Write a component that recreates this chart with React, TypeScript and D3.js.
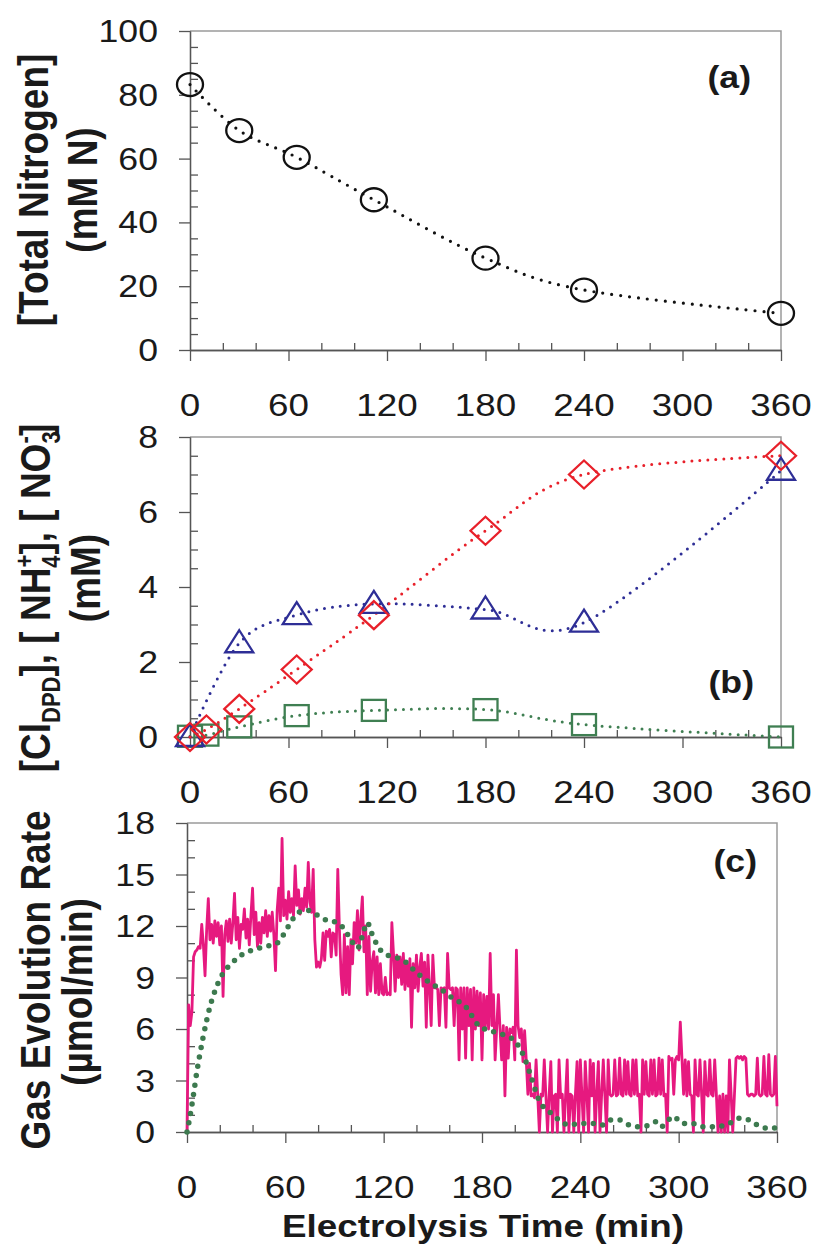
import React, { useEffect, useRef } from "react";
import * as d3 from "d3";

// shared x ticks (minutes)
const timeTicks = [0, 60, 120, 180, 240, 300, 360];

// (a) total nitrogen, mM N
const tnTime = [0, 30, 65, 112, 180, 240, 360];
const tnValue = [83.2, 68.8, 60.4, 47.1, 28.8, 18.8, 11.5];

// (b) species, mM
const triTime = [0, 30, 65, 112, 180, 240, 360];
const triValue = [0, 2.5, 3.25, 3.55, 3.4, 3.05, 7.1];
const diaTime = [0, 10, 30, 65, 112, 180, 240, 360];
const diaValue = [0, 0.2, 0.75, 1.8, 3.25, 5.5, 7.0, 7.5];
const sqTime = [0, 10, 30, 65, 112, 180, 240, 360];
const sqValue = [0.02, 0.05, 0.27, 0.57, 0.71, 0.73, 0.33, 0.0];

// (c) measured gas evolution rate, one reading per minute (0..360)
const rateValue = [
  0, 7.4, 6.2, 7.0, 10.2, 10.5, 10.6, 10.8, 10.7, 12.1,
  10.9, 9.1, 11.8, 13.6, 11.2, 12.1, 11.0, 12.3, 11.4, 12.2,
  10.9, 12.0, 7.9, 11.5, 12.3, 11.1, 12.4, 11.0, 12.2, 13.9,
  11.2, 12.5, 10.7, 12.1, 11.8, 13.0, 11.3, 12.4, 10.9, 12.6,
  14.2, 11.5, 12.8, 10.8, 12.2, 11.0, 12.5, 11.6, 12.9, 11.4,
  12.6, 11.7, 12.8, 11.5, 9.4, 12.9, 14.2, 12.3, 17.1, 12.6,
  13.5, 12.4, 14.0, 12.8, 13.6, 12.6, 15.5, 13.2, 14.1, 12.7,
  13.6, 12.9, 14.2, 13.1, 15.7, 13.4, 12.8, 15.3, 11.2, 9.6,
  9.9, 9.6, 10.1, 11.6, 10.0, 11.7, 11.4, 11.8, 10.2, 11.6,
  11.5, 10.3, 15.3, 11.8, 9.2, 8.0, 11.5, 8.1, 10.8, 8.0,
  11.2, 9.8, 12.2, 11.0, 12.9, 10.6, 12.3, 13.7, 10.5, 12.0,
  8.0, 11.4, 8.2, 9.9, 10.5, 8.1, 10.2, 8.0, 9.8, 8.1,
  8.0, 9.0, 8.0, 8.1, 8.0, 12.2, 10.4, 8.2, 10.3, 9.0,
  10.2, 8.6, 10.4, 8.3, 9.9, 8.5, 10.1, 6.1, 9.8, 8.4,
  10.3, 8.2, 9.6, 10.4, 8.5, 9.9, 6.1, 10.3, 8.4, 6.2,
  10.3, 8.4, 8.4, 8.3, 6.2, 8.4, 8.3, 8.4, 6.1, 10.4,
  8.4, 8.3, 8.4, 6.2, 8.4, 8.3, 4.2, 8.4, 6.0, 8.4,
  4.3, 8.4, 6.2, 8.3, 4.2, 8.4, 6.0, 8.2, 6.2, 8.1,
  4.2, 8.0, 6.1, 7.9, 6.0, 10.4, 6.2, 8.0, 4.2, 6.1,
  8.0, 6.0, 4.2, 6.2, 2.1, 6.1, 4.3, 6.0, 5.8, 6.1,
  4.2, 10.6, 6.2, 5.5, 6.0, 4.1, 5.9, 4.2, 2.2, 4.0,
  2.1, 2.2, 2.0, 4.2, 2.1, 0.0, 2.2, 2.1, 4.2, 2.1,
  0.0, 2.2, 4.1, 0.0, 2.1, 2.2, 0.0, 4.2, 2.0, 2.2,
  0.0, 2.1, 4.2, 0.0, 2.2, 2.1, 0.0, 2.2, 4.1, 0.0,
  4.2, 2.1, 0.0, 4.1, 2.2, 0.0, 4.2, 2.1, 4.0, 0.0,
  2.2, 4.1, 0.0, 2.2, 4.2, 2.1, 0.0, 4.2, 2.2, 2.1,
  2.2, 4.2, 2.1, 2.2, 4.3, 2.2, 2.1, 4.2, 2.2, 4.1,
  2.2, 2.1, 4.2, 2.2, 4.2, 2.1, 2.2, 0.0, 4.2, 2.2,
  4.1, 2.2, 2.1, 4.2, 2.2, 4.2, 2.1, 2.2, 4.3, 2.2,
  4.2, 2.1, 2.2, 0.0, 4.4, 4.2, 4.3, 2.2, 4.2, 4.4,
  4.2, 6.4, 4.3, 2.2, 4.2, 2.1, 4.1, 2.2, 2.1, 0.0,
  4.2, 2.2, 2.1, 4.2, 2.2, 0.0, 4.1, 2.2, 2.1, 4.2,
  2.2, 2.1, 4.2, 2.2, 0.0, 2.1, 0.0, 2.2, 0.0, 2.1,
  0.0, 4.2, 2.2, 0.0, 2.1, 4.3, 4.4, 4.3, 4.4, 4.2,
  4.4, 4.3, 2.2, 2.1, 2.2, 2.2, 2.1, 2.2, 4.3, 2.2,
  2.1, 2.2, 4.4, 2.2, 2.1, 4.5, 2.2, 2.1, 2.2, 4.4, 1.5,
];

// (c) predicted / smoothed rate (green dotted)
const fitTime = [
  0, 2, 4, 6, 8, 10, 12, 14, 17, 20, 24, 28, 33, 40, 48, 55, 62, 68, 74, 80,
  86, 92, 96, 100, 104, 107, 110, 113, 116, 120, 126, 132, 140, 148, 155, 162,
  170, 178, 185, 192, 200, 206, 210, 215, 221, 227, 233, 240, 247, 253, 258,
  264, 270, 276, 282, 286, 289, 297, 302, 308, 314, 321, 329, 337, 343, 350, 357, 360,
];
const fitValue = [
  0, 1.0, 2.2, 3.5, 4.6, 5.6, 6.5, 7.3, 8.2, 8.9, 9.5, 9.9, 10.3, 10.6, 10.8, 11.0, 12.0, 12.8, 12.9, 12.6,
  12.3, 12.2, 11.8, 11.2, 10.7, 11.4, 12.2, 11.5, 10.9, 10.4, 10.2, 10.0, 9.3, 8.7, 8.3, 7.8,
  7.3, 6.2, 5.9, 5.7, 5.3, 4.3, 3.2, 1.8, 1.2, 0.7, 0.4, 0.5, 0.5, 0.4, 0.7,
  0.7, 0.4, 0.3, 0.4, 0.6, 0.3, 0.9, 0.5, 0.5, 0.3, 0.3, 0.4, 0.8, 0.7, 0.3, 0.2, 0.3,
];

const FONT = "'Liberation Sans', Arial, Helvetica, sans-serif";
const SX = 1.15; // the figure is slightly wider than tall

type Sel = d3.Selection<any, unknown, null, undefined>;

function label(g: Sel, x: number, y: number, s: string, size: number, anchor: string, bold = false) {
  return g
    .append("text")
    .attr("transform", `translate(${x},${y}) scale(${SX},1)`)
    .attr("text-anchor", anchor)
    .attr("font-family", FONT)
    .attr("font-size", size)
    .attr("font-weight", bold ? "bold" : "normal")
    .attr("fill", "#1a1a1a")
    .text(s);
}

function vlabel(g: Sel, x: number, y: number, size: number) {
  return g
    .append("text")
    .attr("transform", `translate(${x},${y}) scale(${SX},1) rotate(-90)`)
    .attr("text-anchor", "middle")
    .attr("font-family", FONT)
    .attr("font-size", size)
    .attr("font-weight", "bold")
    .attr("fill", "#1a1a1a");
}

function frame(svg: Sel, left: number, right: number, top: number, bottom: number,
  yTicks: number[], yMinor: number[]) {
  const g = svg.append("g");
  const x = d3.scaleLinear().domain([0, 360]).range([left, right]);
  const y = d3.scaleLinear().domain([0, yTicks[yTicks.length - 1]]).range([bottom, top]);

  // box (top and right)
  g.append("path")
    .attr("d", `M${left},${top}H${right}V${bottom}`)
    .attr("fill", "none").attr("stroke", "#9a9a9a").attr("stroke-width", 1.5);

  const xMinor = d3.range(0, 361, 20).filter(v => v % 60 !== 0);
  g.append("g").attr("transform", `translate(0,${bottom})`)
    .call(d3.axisBottom(x).tickValues(xMinor).tickSize(-7).tickSizeOuter(0).tickFormat(() => ""));
  g.append("g").attr("transform", `translate(0,${bottom})`)
    .call(d3.axisBottom(x).tickValues(timeTicks).tickSize(11).tickSizeOuter(0).tickFormat(() => ""));
  g.append("g").attr("transform", `translate(${left},0)`)
    .call(d3.axisLeft(y).tickValues(yMinor).tickSize(-8).tickSizeOuter(0).tickFormat(() => ""));
  g.append("g").attr("transform", `translate(${left},0)`)
    .call(d3.axisLeft(y).tickValues(yTicks).tickSize(11).tickSizeOuter(0).tickFormat(() => ""));
  g.selectAll(".domain, .tick line").attr("stroke", "#555").attr("stroke-width", 1.3);

  timeTicks.forEach(t => label(g, x(t), bottom + 66, String(t), 32, "middle"));
  yTicks.forEach(v => label(g, left - 32, y(v) + 11, String(v), 31, "end"));
  return { g, x, y };
}

const smooth = d3.curveCardinal.tension(0);

function dotted(g: Sel, xs: number[], ys: number[], x: any, y: any, color: string,
  width: number, gap: number, curve: any = smooth) {
  const line = d3.line<number>().x((_, i) => x(xs[i])).y(d => y(d)).curve(curve);
  g.append("path").attr("d", line(ys) as string)
    .attr("fill", "none").attr("stroke", color).attr("stroke-width", width)
    .attr("stroke-linecap", "round").attr("stroke-dasharray", `0 ${gap}`);
}

export default function App() {
  const ref = useRef<SVGSVGElement>(null);

  useEffect(() => {
    const svg = d3.select(ref.current) as Sel;
    svg.selectAll("*").remove();

    // ---------- (a)
    const a = frame(svg, 190, 781, 31, 350, [0, 20, 40, 60, 80, 100], d3.range(5, 100, 5).filter(v => v % 20 !== 0));
    dotted(a.g, tnTime, tnValue, a.x, a.y, "#111", 3.2, 9);
    a.g.selectAll(".circ").data(tnValue).join("ellipse")
      .attr("cx", (_, i) => a.x(tnTime[i])).attr("cy", d => a.y(d))
      .attr("rx", 13).attr("ry", 11.5)
      .attr("fill", "none").attr("stroke", "#111").attr("stroke-width", 2.3);
    label(a.g, 751, 88, "(a)", 31, "end", true);
    const ta1 = vlabel(a.g, 48, 190, 37);
    ta1.text("[Total Nitrogen]");
    const ta2 = vlabel(a.g, 97, 190, 37);
    ta2.text("(mM N)");

    // ---------- (b)
    const b = frame(svg, 190, 781, 437, 737, [0, 2, 4, 6, 8], d3.range(0.5, 8, 0.5).filter(v => v % 2 !== 0));
    dotted(b.g, sqTime, sqValue, b.x, b.y, "#3f7f52", 3, 8);
    dotted(b.g, triTime, triValue, b.x, b.y, "#2e2e96", 3, 8);
    dotted(b.g, diaTime, diaValue, b.x, b.y, "#e8202a", 3, 8);
    b.g.selectAll(".sq").data(sqValue).join("rect").attr("class", "sq")
      .attr("x", (_, i) => b.x(sqTime[i]) - 12).attr("y", d => b.y(d) - 10.5)
      .attr("width", 24).attr("height", 21)
      .attr("fill", "none").attr("stroke", "#3f7f52").attr("stroke-width", 2.3);
    b.g.selectAll(".tri").data(triValue).join("path").attr("class", "tri")
      .attr("transform", (d, i) => `translate(${b.x(triTime[i])},${b.y(d)})`)
      .attr("d", "M0,-13L14,9L-14,9Z")
      .attr("fill", "none").attr("stroke", "#2e2e96").attr("stroke-width", 2.3);
    b.g.selectAll(".dia").data(diaValue).join("path").attr("class", "dia")
      .attr("transform", (d, i) => `translate(${b.x(diaTime[i])},${b.y(d)})`)
      .attr("d", "M0,-14L15,0L0,14L-15,0Z")
      .attr("fill", "none").attr("stroke", "#e8202a").attr("stroke-width", 2.3);
    label(b.g, 754, 693, "(b)", 31, "end", true);
    const tb1 = vlabel(b.g, 50, 598, 37);
    tb1.append("tspan").text("[Cl");
    tb1.append("tspan").attr("font-size", 22).attr("dy", 9).text("DPD");
    tb1.append("tspan").attr("dy", -9).text("], [ NH");
    tb1.append("tspan").attr("font-size", 22).attr("dy", 9).text("4");
    tb1.append("tspan").attr("font-size", 22).attr("dx", -12).attr("dy", -24).text("+");
    tb1.append("tspan").attr("dy", 15).text("], [ NO");
    tb1.append("tspan").attr("font-size", 22).attr("dy", 9).text("3");
    tb1.append("tspan").attr("font-size", 22).attr("dx", -12).attr("dy", -24).text("-");
    tb1.append("tspan").attr("dy", 15).text("]");
    const tb2 = vlabel(b.g, 100, 578, 37);
    tb2.text("(mM)");

    // ---------- (c)
    const c = frame(svg, 187, 777, 823, 1132, [0, 3, 6, 9, 12, 15, 18], d3.range(1, 18, 1).filter(v => v % 3 !== 0));
    const rateLine = d3.line<number>().x((_, i) => c.x(i)).y(d => c.y(d));
    c.g.append("path").attr("d", rateLine(rateValue) as string)
      .attr("fill", "none").attr("stroke", "#e6197f").attr("stroke-width", 2.8)
      .attr("stroke-linejoin", "round");
    dotted(c.g, fitTime, fitValue, c.x, c.y, "#3d7a4f", 5.5, 9.5, d3.curveMonotoneX);
    label(c.g, 757, 872, "(c)", 31, "end", true);
    const tc1 = vlabel(c.g, 50, 980, 37);
    tc1.text("Gas Evolution Rate");
    const tc2 = vlabel(c.g, 92, 992, 37);
    tc2.text("(\u00b5mol/min)");

    label(svg, 483, 1237, "Electrolysis Time (min)", 32, "middle", true);
  }, []);

  return (
    <svg ref={ref} width={815} height={1250}
      style={{ position: "absolute", left: 0, top: 0, background: "#fff" }} />
  );
}
